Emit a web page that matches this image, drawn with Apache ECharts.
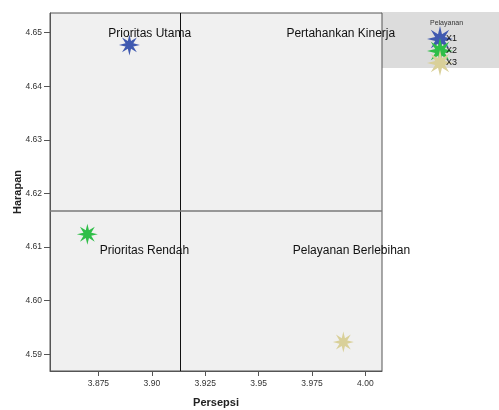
<!DOCTYPE html>
<html><head><meta charset="utf-8">
<script src="https://cdn.jsdelivr.net/npm/echarts@6/dist/echarts.min.js"></script>
<style>html,body{margin:0;padding:0;background:#fff}#c{width:499px;height:410px}</style>
</head><body><div id="c"></div>
<script>
// Data
const seriesNames = ['X1', 'X2', 'X3'];
const persepsi = [3.8895, 3.8698, 3.9897];
const harapan = [4.6477, 4.6124, 4.5923];
const meanPersepsi = 3.9133;
const meanHarapan = 4.6168;
const xTicks = [3.875, 3.9, 3.925, 3.95, 3.975, 4.0];
const xTickLabels = ['3.875', '3.90', '3.925', '3.95', '3.975', '4.00'];
const yTicks = [4.59, 4.60, 4.61, 4.62, 4.63, 4.64, 4.65];
const yTickLabels = ['4.59', '4.60', '4.61', '4.62', '4.63', '4.64', '4.65'];
const quadrantNames = ['Prioritas Utama', 'Pertahankan Kinerja', 'Prioritas Rendah', 'Pelayanan Berlebihan'];
const quadrantX = [3.899, 3.9885, 3.8965, 3.9935];
const quadrantY = [4.6498, 4.6498, 4.6093, 4.6093];
const colors = ['#3f59b0', '#2fbe48', '#d9d099'];

// 8-point star symbol
function starPath(n, rOut, rIn) {
  let d = '';
  for (let i = 0; i < 2 * n; i++) {
    const r = i % 2 === 0 ? rOut : rIn;
    const a = -Math.PI / 2 + i * Math.PI / n;
    const x = 50 + r * Math.cos(a), y = 50 + r * Math.sin(a);
    d += (i === 0 ? 'M' : 'L') + x.toFixed(2) + ' ' + y.toFixed(2);
  }
  return 'path://' + d + 'Z';
}
const star = starPath(8, 50, 20);

const chart = echarts.init(document.getElementById('c'));
const font = 'Liberation Sans, Arial, sans-serif';
const series = seriesNames.map((n, i) => ({
  name: n, type: 'scatter', symbol: star, symbolSize: 21,
  itemStyle: { color: colors[i], opacity: 1 },
  data: [[persepsi[i], harapan[i]]], z: 3
}));
series.push({
  name: 'quadrants', type: 'scatter', symbolSize: 0, silent: true, z: 4,
  data: quadrantNames.map((q, i) => ({ value: [quadrantX[i], quadrantY[i]], name: q })),
  label: { show: true, position: 'inside', formatter: p => p.name, color: '#111', fontSize: 12, fontFamily: font, textBorderWidth: 0 },
  itemStyle: { opacity: 1 },
  markLine: {
    silent: true, symbol: 'none', precision: 5, label: { show: false },
    data: [
      { xAxis: meanPersepsi, lineStyle: { color: '#111', width: 1, type: 'solid' } },
      { yAxis: meanHarapan, lineStyle: { color: '#7a7a7a', width: 1.5, type: 'solid' } }
    ]
  }
});
chart.setOption({
  animation: false,
  backgroundColor: '#fff',
  title: { text: 'Pelayanan', left: 425, top: 15, textStyle: { fontSize: 7, fontWeight: 'normal', color: '#333', fontFamily: font } },
  graphic: [{ type: 'rect', shape: { x: 381, y: 12, width: 118, height: 56 }, style: { fill: '#dcdcdc' }, z: -1 }],
  legend: {
    data: seriesNames, orient: 'vertical', left: 422, top: 21, itemWidth: 26, itemHeight: 26, itemGap: -14,
    icon: star, textStyle: { fontSize: 9, color: '#111', fontFamily: font, padding: [6, 0, 0, -12] }
  },
  grid: { left: 50, right: 117, top: 13, bottom: 39, show: true, backgroundColor: '#f0f0f0', borderColor: '#555', borderWidth: 1,
    containLabel: false, outerBoundsMode: 'none' },
  xAxis: {
    type: 'value', min: 3.8523, max: 4.0078, name: 'Persepsi', nameLocation: 'middle', nameGap: 26, nameMoveOverlap: false,
    nameTextStyle: { fontWeight: 'bold', fontSize: 11, color: '#222', fontFamily: font },
    axisLine: { show: true, lineStyle: { color: '#555' } }, splitLine: { show: false },
    axisTick: { show: true, length: 5, lineStyle: { color: '#555' }, customValues: xTicks },
    axisLabel: { fontSize: 8.5, color: '#333', fontFamily: font, margin: 8, customValues: xTicks,
      formatter: v => { const k = xTicks.findIndex(t => Math.abs(t - v) < 1e-6); return k >= 0 ? xTickLabels[k] : ''; } }
  },
  yAxis: {
    type: 'value', min: 4.5869, max: 4.65365, name: 'Harapan', nameLocation: 'middle', nameGap: 27, nameMoveOverlap: false,
    nameTextStyle: { fontWeight: 'bold', fontSize: 11, color: '#222', fontFamily: font },
    axisLine: { show: true, lineStyle: { color: '#555' } }, splitLine: { show: false },
    axisTick: { show: true, length: 6, lineStyle: { color: '#555' }, customValues: yTicks },
    axisLabel: { fontSize: 8.5, color: '#333', fontFamily: font, margin: 8, customValues: yTicks,
      formatter: v => { const k = yTicks.findIndex(t => Math.abs(t - v) < 1e-6); return k >= 0 ? yTickLabels[k] : ''; } }
  },
  series: series
});
</script></body></html>
